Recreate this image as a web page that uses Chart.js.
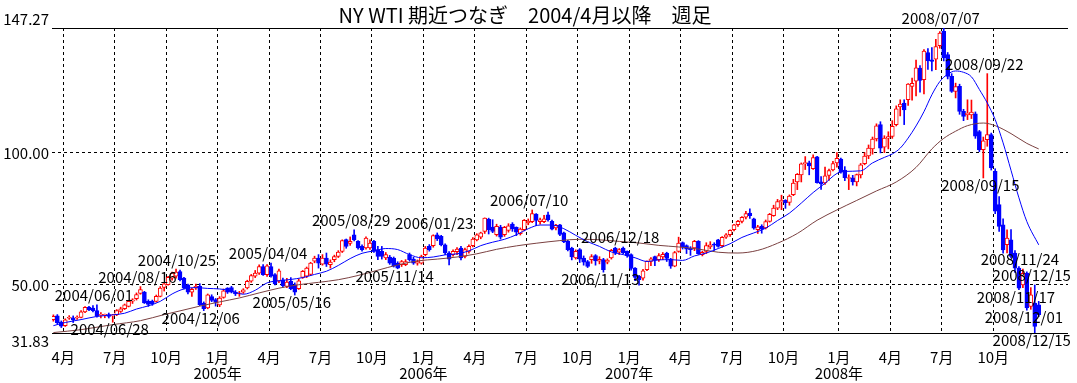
<!DOCTYPE html>
<html>
<head>
<meta charset="utf-8">
<script src="https://cdn.jsdelivr.net/npm/chart.js@4.4.1/dist/chart.umd.min.js"></script>
<style>
  html, body { margin: 0; padding: 0; background: #fff; }
</style>
</head>
<body>
<canvas id="grafico" width="1077" height="383"></canvas>
<script>
// Datos semanales, indice 0 = semana del 2004/03/15
const titulo = 'NY WTI 期近つなぎ　2004/4月以降　週足';

const aperturas = [
  36.9,38.3,36.0,34.6,37.4,37.6,37.5,37.7,39.8,41.6,41.3,40.3,38.5,
  38.5,38.8,38.3,38.8,40.0,41.0,41.9,43.9,44.8,46.8,47.3,43.8,43.9,
  43.8,45.7,49.1,50.1,52.6,53.3,55.1,52.6,50.1,47.3,48.9,49.5,43.2,
  41.3,45.6,44.5,42.5,45.3,48.8,49.0,47.3,46.6,47.3,48.9,51.4,53.3,
  54.5,57.0,53.9,57.0,53.9,51.4,52.0,49.5,51.4,50.1,48.6,52.9,53.3,
  54.0,59.0,60.2,57.9,60.2,57.7,59.6,60.8,62.7,67.2,65.7,69.0,66.5,
  64.6,64.0,64.0,66.5,63.4,62.7,60.2,60.6,60.2,58.3,57.7,57.7,61.5,
  59.8,58.3,58.3,61.5,64.6,64.9,69.0,68.4,65.2,62.1,61.5,62.6,64.0,
  60.8,62.7,64.9,67.1,68.1,70.3,74.9,71.9,69.0,71.9,69.0,70.7,73.1,
  71.8,69.4,70.9,73.5,74.0,76.8,74.0,74.0,76.6,74.1,71.6,72.8,69.7,
  66.5,64.0,60.2,63.4,60.2,58.9,59.6,61.1,59.0,59.6,58.6,60.2,64.0,
  62.4,64.0,62.7,61.5,56.4,53.3,52.6,55.8,58.9,60.8,59.6,60.6,62.1,
  59.8,57.1,62.7,66.1,64.9,64.0,64.0,66.5,61.5,62.7,64.4,65.4,67.1,
  64.9,68.1,69.0,70.9,72.8,74.1,75.7,77.2,75.0,70.9,72.2,71.6,74.1,
  76.2,79.1,81.5,82.0,81.3,84.2,89.0,91.7,95.9,96.2,94.0,98.5,89.0,
  88.6,91.5,93.6,96.2,97.7,93.5,90.3,90.6,89.0,91.7,95.9,98.9,101.5,
  105.3,110.7,102.2,105.6,106.2,110.7,117.4,118.9,120.1,125.2,127.1,132.1,127.7,
  138.0,135.2,135.5,140.6,146.0,137.2,129.0,123.3,125.2,115.7,114.4,114.4,114.8,
  108.1,101.2,105.0,106.9,93.0,80.4,72.8,65.3,67.1,62.1,56.4,50.0,54.5,
  41.9,43.2,42.5
];

const maximos = [
  38.7,38.8,36.4,37.2,38.4,38.3,38.3,40.3,41.8,41.9,42.2,42.5,39.6,
  39.0,39.4,38.9,40.7,41.6,42.8,44.1,44.8,47.0,49.4,47.6,44.4,44.3,
  46.2,49.4,50.6,53.3,54.9,56.0,55.67,52.9,50.3,48.8,50.3,50.5,43.6,
  46.6,46.3,44.9,45.6,48.5,49.0,49.5,47.9,47.6,48.6,51.8,54.0,55.5,
  57.6,57.7,57.7,58.28,54.3,56.0,52.6,52.5,52.8,50.8,52.3,55.5,56.8,
  58.6,60.9,61.5,61.5,62.1,59.5,61.3,63.0,67.1,67.4,68.2,70.85,66.8,
  65.2,68.2,67.1,66.9,64.6,64.6,62.3,61.2,60.6,58.8,59.3,59.6,62.1,
  60.5,59.5,61.3,64.6,65.3,69.0,69.7,68.8,65.6,62.6,63.3,64.2,64.6,
  64.0,65.2,67.9,69.4,70.0,75.4,75.3,74.7,73.0,72.6,72.2,73.2,73.6,
  72.0,71.6,74.8,75.0,78.4,77.0,75.3,76.4,77.6,74.6,73.0,73.0,70.0,
  66.9,64.3,63.3,63.8,61.0,59.3,61.5,61.5,60.7,60.1,59.9,63.5,64.3,
  63.8,64.4,62.9,61.8,56.6,53.7,55.9,59.1,60.4,60.9,61.9,62.3,62.4,
  60.1,62.7,68.1,66.3,65.2,64.5,66.9,66.8,62.8,66.0,66.4,66.0,67.3,
  68.3,69.5,70.9,73.0,74.5,75.9,77.9,78.8,75.3,72.6,72.8,74.6,77.1,
  80.2,82.4,84.0,82.3,84.1,90.0,92.2,96.2,98.6,96.9,99.3,98.7,91.0,
  94.6,93.9,96.8,100.1,98.0,94.8,91.7,91.5,92.0,96.0,100.1,103.0,106.0,
  111.0,111.8,106.5,108.0,112.2,117.8,120.1,120.1,126.2,128.3,135.1,133.0,139.1,
  139.5,139.9,143.0,145.9,147.27,138.0,130.0,126.4,126.0,116.5,120.1,120.0,115.5,
  108.5,106.0,130.0,107.5,94.0,83.5,75.0,70.9,71.0,63.0,57.0,56.0,55.0,
  49.0,50.0,43.8
];

const minimos = [
  36.3,35.2,33.9,34.3,37.0,35.8,37.0,37.5,39.5,40.3,39.8,37.8,37.5,
  37.6,37.5,35.9,38.4,39.6,40.7,41.7,43.0,44.3,46.5,43.0,41.9,42.3,
  43.5,45.5,47.7,49.9,51.8,52.6,51.5,48.5,46.6,45.7,48.3,42.2,40.3,
  41.0,43.7,42.0,41.8,45.0,46.8,47.0,46.0,45.7,46.8,48.5,51.0,52.8,
  54.0,53.6,53.2,53.0,50.0,50.9,49.2,49.0,48.2,46.2,48.3,52.5,52.8,
  53.6,58.4,56.4,57.5,57.0,56.4,58.8,60.4,62.3,63.9,65.0,66.7,63.6,
  62.8,63.6,63.5,62.3,59.6,59.8,59.6,57.8,56.8,56.14,57.0,57.3,59.0,
  57.8,57.5,57.9,61.0,62.8,64.3,66.8,64.8,61.5,57.6,60.9,61.5,59.5,
  60.2,62.0,64.4,66.7,67.5,69.5,69.3,69.8,68.5,67.4,68.4,70.0,70.3,
  68.7,68.9,70.5,72.8,73.6,72.5,73.0,73.6,74.2,70.8,70.8,68.7,66.0,
  62.9,59.5,59.8,58.5,57.5,56.6,58.2,57.5,58.0,54.86,58.0,59.8,61.5,
  61.5,61.8,60.5,55.6,51.6,49.9,51.8,55.4,57.3,57.3,58.9,59.6,58.9,
  56.3,56.9,62.4,63.6,61.9,61.2,63.0,61.6,61.0,61.9,63.7,63.1,64.3,
  64.3,67.6,68.4,70.5,72.2,73.5,75.0,75.2,71.1,69.5,69.6,71.2,73.8,
  76.0,78.5,78.5,79.0,80.2,83.8,86.1,89.0,93.7,91.7,93.7,88.5,86.2,
  88.1,89.6,93.2,94.6,92.3,89.5,86.1,87.8,87.5,90.5,95.5,97.8,99.5,
  104.5,100.0,100.1,101.5,105.5,110.2,114.0,110.7,118.0,120.0,121.6,123.0,122.3,
  131.6,131.0,131.5,139.6,134.8,128.0,122.9,120.8,114.6,112.2,112.6,113.0,105.5,
  100.5,90.51,102.5,93.5,77.0,70.3,62.0,62.1,60.2,54.8,48.25,49.0,40.5,
  40.8,31.83,38.0
];

const cierres = [
  38.1,35.7,34.4,36.8,37.7,36.8,37.7,39.8,41.5,40.7,40.3,38.2,38.8,
  38.7,38.1,38.6,40.3,41.0,42.5,43.8,44.4,46.4,48.3,43.2,42.6,42.9,
  45.7,48.8,50.4,52.9,54.5,54.9,52.0,48.8,47.3,48.4,49.5,42.5,41.0,
  46.3,44.2,43.4,45.0,47.8,47.3,47.3,46.6,46.9,48.2,51.4,53.6,54.5,
  57.0,53.9,57.3,53.3,50.4,55.4,49.7,51.1,48.6,47.3,51.6,55.2,56.4,
  58.3,60.2,58.3,60.2,57.9,58.7,60.8,62.5,66.8,64.6,66.5,67.1,64.0,
  63.4,67.8,65.9,62.7,60.8,60.8,61.5,58.3,57.1,56.4,58.9,58.9,59.6,
  58.3,58.9,60.8,64.0,63.4,68.7,67.4,65.2,62.1,59.8,62.7,63.6,60.2,
  63.4,64.6,67.4,69.0,69.7,75.3,70.9,70.3,72.2,68.1,71.8,72.4,71.2,
  70.0,71.2,74.5,74.2,77.0,74.4,74.7,75.0,74.7,71.1,72.6,69.1,66.3,
  63.4,60.6,62.7,59.8,58.6,57.0,60.8,59.1,59.7,55.8,59.4,63.1,62.0,
  63.4,62.2,61.1,56.3,52.9,52.0,55.4,59.0,59.9,59.4,61.1,61.6,60.1,
  57.1,62.3,65.9,64.3,63.6,63.4,66.5,61.9,62.4,64.9,65.2,65.1,64.6,
  68.0,69.0,70.7,72.8,74.1,75.6,77.0,76.2,71.5,72.0,71.1,74.0,76.7,
  79.1,81.6,82.0,81.2,83.7,88.6,91.9,95.9,96.3,95.1,98.2,88.7,88.3,
  91.3,93.3,96.0,97.9,92.7,90.6,90.7,89.0,91.8,95.5,98.8,101.8,105.2,
  110.2,101.8,105.6,106.2,110.1,116.7,118.5,116.3,126.0,126.3,132.2,127.4,138.5,
  134.9,134.6,140.2,145.3,136.0,128.9,123.3,125.1,115.7,113.8,115.1,115.4,106.3,
  101.2,104.6,106.9,94.3,77.9,72.2,63.3,67.8,60.8,56.4,48.8,54.4,41.3,
  46.3,34.3,38.8
];

// medias moviles (13 y 26 semanas)
const ma13Semana = [0,3,7,11,15,18,21,24,27,30,33,36,39,42,45,48,51,54,57,60,63,66,69,72,75,78,81,84,87,90,
  93,96,99,102,105,108,111,114,117,120,123,126,129,132,135,138,141,144,147,150,153,156,159,162,165,168,171,174,177,180,
  183,186,189,192,195,198,200,204,207,210,212,214,216,218,220,222,224,226,228,230,232,234,236,238,240,242,244,246,249];
const ma13 = [34.6,35.8,36.9,38.1,38.7,39.3,40.9,42.1,43.8,46.6,48.5,49.0,48.7,48.5,47.8,46.5,48.0,50.8,51.6,52.1,
  52.8,54.0,55.2,57.4,60.0,62.0,62.9,63.8,63.4,61.5,60.3,60.6,61.4,61.8,62.9,64.9,66.2,67.3,69.0,71.3,
  72.7,72.7,71.3,68.8,66.4,64.6,62.5,61.5,60.3,58.9,59.5,59.6,59.3,61.0,62.1,63.8,65.6,68.0,69.7,71.5,
  74.4,77.2,81.0,85.0,88.5,92.2,93.0,93.2,96.2,98.3,99.6,101.8,105.6,110.2,115.6,122.0,127.0,129.8,131.0,130.5,
  128.8,124.0,118.9,112.6,103.8,93.4,83.0,74.0,65.2];

const ma26Semana = [0,7,15,22,28,32,37,42,47,52,57,62,67,72,77,82,87,92,97,102,107,112,117,122,128,133,138,143,148,153,
  158,163,168,173,178,183,188,193,198,203,208,213,218,222,225,228,231,235,238,242,246,249];
const ma26 = [32.0,33.1,35.0,36.5,38.8,40.2,42.0,43.6,45.1,47.0,48.8,50.1,51.0,52.0,53.6,55.6,57.6,59.1,59.8,60.6,
  61.8,63.5,64.8,65.8,66.8,67.3,67.1,66.5,65.9,65.0,64.4,63.6,62.4,62.1,63.1,65.8,69.5,74.5,78.4,82.0,
  85.6,89.0,94.5,101.5,105.5,108.2,110.3,111.3,110.3,107.3,103.6,101.5];

// eje X: limites de trimestre (entre la ultima semana del mes anterior y la primera del mes)
const mesesPos = [2.5,15.5,28.5,41.5,54.5,67.5,80.5,93.5,106.5,119.5,132.5,145.5,158.5,171.5,184.5,198.5,211.5,224.5,237.5];
const mesesTxt = ['4月','7月','10月','1月','4月','7月','10月','1月','4月','7月','10月','1月','4月','7月','10月','1月','4月','7月','10月'];
const aniosTxt = ['','','','2005年','','','','2006年','','','','2007年','','','','2008年','','',''];

const yMin = 31.83;
const yMax = 147.27;
const yMarcas = [31.83, 50, 100, 147.27];

// fechas marcadas en maximos (H) y minimos (L)
const marcaTxt = ['2004/06/01','2004/06/28','2004/08/16','2004/10/25','2004/12/06','2005/04/04','2005/05/16','2005/08/29',
  '2005/11/14','2006/01/23','2006/07/10','2006/11/13','2006/12/18','2008/07/07','2008/09/22','2008/09/15',
  '2008/11/24','2008/12/15','2008/11/17','2008/12/01','2008/12/15'];
const marcaSemana = [11,15,22,32,38,55,61,76,87,97,121,139,144,225,236,235,245,248,244,246,248];
const marcaLado = ['H','L','H','H','L','H','L','H','L','H','H','L','H','H','H','L','H','H','L','L','L'];

const ROJO = '#ff0000';
const AZUL = '#0000ff';
const CAFE = '#7a4040';
const FUENTE = '"Noto Sans CJK JP", "DejaVu Sans", sans-serif';

Chart.defaults.font.family = FUENTE;

const sube = cierres.map((c, i) => c >= aperturas[i]);

const mechas = maximos.map((h, i) => ({ x: i, y: [minimos[i], h] }));
const cuerpos = aperturas.map((o, i) => ({ x: i, y: [o, cierres[i]] }));

// textos: titulo y fechas
const textos = {
  id: 'textos',
  afterDatasetsDraw(chart) {
    const { ctx, scales: { x, y } } = chart;
    ctx.save();
    ctx.fillStyle = '#000';
    ctx.textAlign = 'center';
    ctx.textBaseline = 'middle';
    ctx.font = '15px ' + FUENTE;
    marcaTxt.forEach((t, k) => {
      const i = marcaSemana[k];
      const alto = marcaLado[k] === 'H';
      const px = x.getPixelForValue(i) - 3;
      const py = y.getPixelForValue(alto ? maximos[i] : minimos[i]) + (alto ? -9.5 : 7.5);
      ctx.fillText(t, px, py);
    });
    ctx.font = '20px ' + FUENTE;
    ctx.fillText(titulo, 525, 15);
    ctx.restore();
  }
};

const config = {
  type: 'bar',
  data: {
    datasets: [
      {
        type: 'line',
        data: ma13Semana.map((s, k) => ({ x: s, y: ma13[k] })),
        borderColor: AZUL,
        borderWidth: 1,
        pointRadius: 0,
        cubicInterpolationMode: 'monotone',
        order: 0
      },
      {
        type: 'line',
        data: ma26Semana.map((s, k) => ({ x: s, y: ma26[k] })),
        borderColor: CAFE,
        borderWidth: 1,
        pointRadius: 0,
        cubicInterpolationMode: 'monotone',
        order: 0
      },
      {
        data: cuerpos,
        grouped: false,
        barThickness: 4,
        minBarLength: 1,
        borderWidth: 1,
        borderSkipped: false,
        backgroundColor: sube.map(u => u ? '#ffffff' : AZUL),
        borderColor: sube.map(u => u ? ROJO : AZUL),
        order: 1
      },
      {
        data: mechas,
        grouped: false,
        barThickness: 1,
        borderWidth: 0,
        backgroundColor: sube.map(u => u ? ROJO : AZUL),
        order: 2
      }
    ]
  },
  options: {
    responsive: false,
    animation: false,
    layout: { padding: { top: 28, right: 9, left: 0, bottom: 0 } },
    plugins: {
      legend: { display: false },
      tooltip: { enabled: false },
      title: { display: false }
    },
    scales: {
      x: {
        type: 'linear',
        min: -0.35,
        max: 256.4,
        offset: false,
        afterBuildTicks: s => { s.ticks = mesesPos.map(v => ({ value: v })); },
        afterFit: s => { s.height = 50; },
        ticks: {
          autoSkip: false,
          maxRotation: 0,
          padding: 16,
          color: '#000',
          font: { size: 15, lineHeight: 1.1 },
          callback: (v, k) => aniosTxt[k] ? [mesesTxt[k], aniosTxt[k]] : mesesTxt[k]
        },
        grid: { color: '#000', lineWidth: 1, drawTicks: false, offset: false },
        border: { display: false, dash: [3, 3] }
      },
      y: {
        min: yMin,
        max: yMax,
        afterBuildTicks: s => { s.ticks = yMarcas.map(v => ({ value: v })); },
        afterFit: s => { s.width = 52; },
        ticks: {
          padding: 3,
          color: '#000',
          font: { size: 15, lineHeight: 1.15 },
          callback: v => v === yMax ? [v.toFixed(2), ''] : v === yMin ? ['', v.toFixed(2)] : v.toFixed(2)
        },
        grid: { color: '#000', lineWidth: 1, drawTicks: false },
        border: {
          display: false,
          dash: c => (c.tick && (c.tick.value === yMin || c.tick.value === yMax)) ? [] : [3, 3]
        }
      }
    }
  },
  plugins: [textos]
};

const ctx = document.getElementById('grafico').getContext('2d');
const myChart = new Chart(ctx, config);
</script>
</body>
</html>
